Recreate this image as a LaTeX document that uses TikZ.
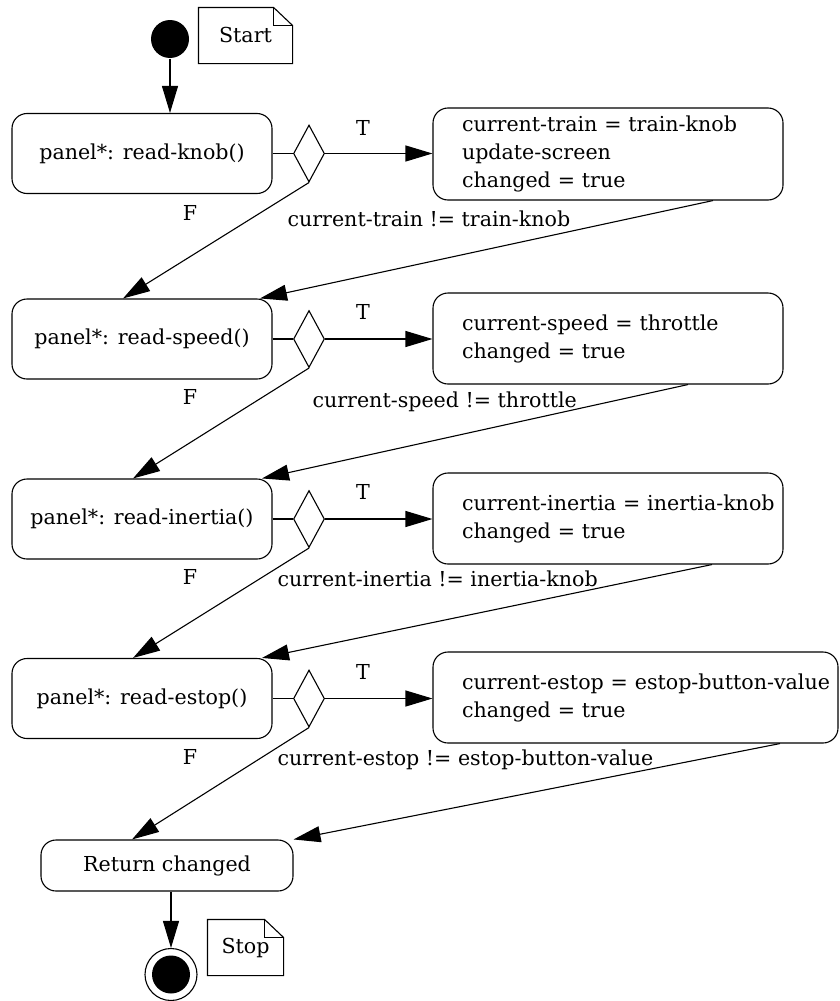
\documentclass[tikz,border=0pt]{standalone}
\usepackage{fontspec}
\setmainfont{DejaVu Serif}
\usetikzlibrary{arrows.meta,shapes.geometric}

\tikzset{
  activity/.style={draw,rounded corners=15pt,minimum width=260pt,minimum height=80pt,inner sep=0pt},
  action/.style={draw,rounded corners=15pt,align=left,text width=292pt,inner xsep=29pt,inner ysep=0pt,minimum height=91pt},
  branch/.style={draw,diamond,inner sep=0pt,minimum width=31pt,minimum height=57pt},
  flow/.style={-{Triangle[length=27pt,width=16pt]}},
}

\begin{document}
\begin{tikzpicture}[x=1pt,y=-1pt,line width=1.1pt,font=\fontsize{20.6}{28}\selectfont]
  \useasboundingbox (0,0) rectangle (840,1001);
  % start and stop
  \node (init) [circle,fill,minimum size=38pt,inner sep=0pt] at (170,39) {};
  \node (startnote) [minimum width=93pt,minimum height=55pt] at (245.5,35.5) {Start};
  \draw (startnote.north west) -- ([xshift=-19pt]startnote.north east) -- ([yshift=-18pt]startnote.north east) -- (startnote.south east) -- (startnote.south west) -- cycle;
  \draw ([xshift=-19pt]startnote.north east) |- ([yshift=-18pt]startnote.north east);
  \node (ret) [activity,minimum width=252pt,minimum height=51pt] at (167,865.5) {Return changed};
  \node (final) [circle,draw,minimum size=52pt,inner sep=0pt] at (171,974.5) {};
  \fill (final.center) circle (19pt);
  \node (stopnote) [minimum width=75pt,minimum height=55pt] at (245.5,947.5) {Stop};
  \draw (stopnote.north west) -- ([xshift=-19pt]stopnote.north east) -- ([yshift=-18pt]stopnote.north east) -- (stopnote.south east) -- (stopnote.south west) -- cycle;
  \draw ([xshift=-19pt]stopnote.north east) |- ([yshift=-18pt]stopnote.north east);

  % reads
  \node (knob) [activity] at (142,153.5) {panel*: read-knob()};
  \node (speed) [activity] at (142,339) {panel*: read-speed()};
  \node (inertia) [activity] at (142,519) {panel*: read-inertia()};
  \node (estop) [activity] at (142,698.5) {panel*: read-estop()};
  \node (d1) [branch] at (309,153.5) {};
  \node (d2) [branch] at (309,339) {};
  \node (d3) [branch] at (309,519) {};
  \node (d4) [branch] at (309,698.5) {};
  \node (t1) [action,minimum height=92pt] at (608,154) {\mbox{current-train = train-knob}\\update-screen\\changed = true};
  \node (t2) [action] at (608,338.5) {\mbox{current-speed = throttle}\\changed = true};
  \node (t3) [action] at (608,518.5) {\mbox{current-inertia = inertia-knob}\\changed = true};
  \node (t4) [action,text width=347pt] at (635.5,697.5) {\mbox{current-estop = estop-button-value}\\changed = true};

  % labels
  \node (lt1) at (363,128) {T};
  \node (lt2) at (363,312) {T};
  \node (lt3) at (363,492) {T};
  \node (lt4) at (363,672) {T};
  \node (lf1) at (190,213) {F};
  \node (lf2) at (190,397) {F};
  \node (lf3) at (190,577) {F};
  \node (lf4) at (190,757) {F};
  \node (c1) [anchor=west,inner sep=0pt] at (287,219) {current-train != train-knob};
  \node (c2) [anchor=west,inner sep=0pt] at (312,402) {current-speed != throttle};
  \node (c3) [anchor=west,inner sep=0pt] at (277,579) {current-inertia != inertia-knob};
  \node (c4) [anchor=west,inner sep=0pt] at (277,760) {current-estop != estop-button-value};

  % edges
  \draw [flow] (init) -- (init |- knob.north);
  \draw (knob.east) -- (d1.west);
  \draw (speed.east) -- (d2.west);
  \draw (inertia.east) -- (d3.west);
  \draw (estop.east) -- (d4.west);
  \draw [flow] (d1.east) -- (d1.east -| t1.west);
  \draw [flow] (d2.east) -- (d2.east -| t2.west);
  \draw [flow] (d3.east) -- (d3.east -| t3.west);
  \draw [flow] (d4.east) -- (d4.east -| t4.west);
  \draw [flow] (d1.south) -- ([xshift=-19pt]speed.north);
  \draw [flow] (d2.south) -- ([xshift=-9pt]inertia.north);
  \draw [flow] (d3.south) -- ([xshift=-9pt]estop.north);
  \draw [flow] (d4.south) -- ([xshift=-35pt]ret.north);
  \draw [flow] ([xshift=105pt]t1.south) -- ([xshift=118pt]speed.north);
  \draw [flow] ([xshift=80pt]t2.south) -- ([xshift=120pt]inertia.north);
  \draw [flow] ([xshift=104pt]t3.south) -- ([xshift=120pt]estop.north);
  \draw [flow] ([xshift=144.5pt]t4.south) -- (ret.north east);
  \draw [flow] (ret.south -| final.north) -- (final.north);
\end{tikzpicture}
\end{document}
